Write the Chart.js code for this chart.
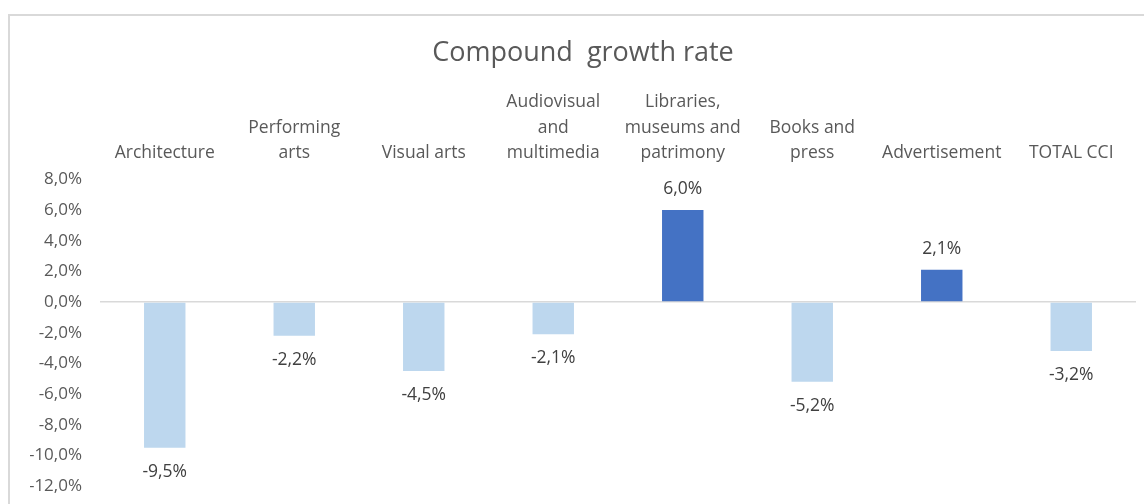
<!DOCTYPE html>
<html>
<head>
    <title>Compound growth rate</title>
    <script src="https://cdn.jsdelivr.net/npm/chart.js"></script>
    <style>
        body { margin: 0; background: #fff; overflow: hidden; }
        .frame { position: absolute; left: 8px; top: 14px; width: 1200px; height: 600px; border: 2px solid #d9d9d9; box-sizing: border-box; }
        .chart-box { position: absolute; left: 0; top: 0; width: 1144px; height: 504px; }
    </style>
</head>
<body>
    <div class="frame"></div>
    <div class="chart-box">
        <canvas id="growthChart"></canvas>
    </div>

    <script>
        // datos
        const sectors = [
            ['Architecture'],
            ['Performing', 'arts'],
            ['Visual arts'],
            ['Audiovisual', 'and', 'multimedia'],
            ['Libraries,', 'museums and', 'patrimony'],
            ['Books and', 'press'],
            ['Advertisement'],
            ['TOTAL CCI']
        ];
        const growthRates = [-9.5, -2.2, -4.5, -2.1, 6.0, -5.2, 2.1, -3.2];
        const yTicks = [-12, -10, -8, -6, -4, -2, 0, 2, 4, 6, 8];

        const fontName = '"Open Sans", "Noto Sans", sans-serif';
        const pct = v => v.toFixed(1).replace('.', ',') + '%';

        // etiquetas de valor sobre / bajo cada barra
        const valueLabels = {
            id: 'valueLabels',
            afterDatasetsDraw(chart) {
                const ctx = chart.ctx;
                const meta = chart.getDatasetMeta(0);
                ctx.save();
                ctx.font = '17.5px ' + fontName;
                ctx.fillStyle = '#404040';
                ctx.textAlign = 'center';
                ctx.textBaseline = 'middle';
                meta.data.forEach((bar, i) => {
                    const v = growthRates[i];
                    const y = v < 0 ? bar.y + 24 : bar.y - 21;
                    ctx.fillText(pct(v), bar.x, y);
                });
                ctx.restore();
            }
        };

        const ctx = document.getElementById('growthChart').getContext('2d');
        const growthChart = new Chart(ctx, {
            type: 'bar',
            data: {
                labels: sectors,
                datasets: [{
                    data: growthRates,
                    backgroundColor: growthRates.map(v => v < 0 ? '#BDD7EE' : '#4472C4'),
                    borderWidth: 0,
                    categoryPercentage: 1,
                    barPercentage: 0.32
                }]
            },
            options: {
                responsive: true,
                maintainAspectRatio: false,
                animation: false,
                layout: { padding: { top: 28, left: 30, right: 8, bottom: 18 } },
                plugins: {
                    legend: { display: false },
                    tooltip: { enabled: false },
                    title: {
                        display: true,
                        text: 'Compound  growth rate',
                        color: '#595959',
                        font: { family: fontName, size: 27, weight: 'normal' },
                        padding: { top: 9, bottom: 9 }
                    }
                },
                scales: {
                    x: {
                        position: 'top',
                        grid: { display: false },
                        border: { display: false },
                        ticks: {
                            color: '#595959',
                            font: { family: fontName, size: 17.5, lineHeight: 1.48 },
                            padding: 5,
                            maxRotation: 0,
                            autoSkip: false
                        },
                        afterFit(scale) { scale.height = 101; }
                    },
                    y: {
                        min: yTicks[0],
                        max: yTicks[yTicks.length - 1],
                        border: { display: false },
                        grid: {
                            drawTicks: false,
                            lineWidth: 1.5,
                            color: c => c.tick && c.tick.value === 0 ? '#d9d9d9' : 'rgba(0,0,0,0)'
                        },
                        afterBuildTicks(scale) {
                            scale.ticks = yTicks.map(v => ({ value: v }));
                        },
                        ticks: {
                            color: '#595959',
                            font: { family: fontName, size: 17 },
                            padding: 18,
                            callback: v => pct(v)
                        },
                        afterFit(scale) {
                            scale.width = 70;
                            // sin relleno extra arriba/abajo por las etiquetas
                            scale.paddingTop = 0;
                            scale.paddingBottom = 0;
                        }
                    }
                }
            },
            plugins: [valueLabels]
        });
    </script>
</body>
</html>
